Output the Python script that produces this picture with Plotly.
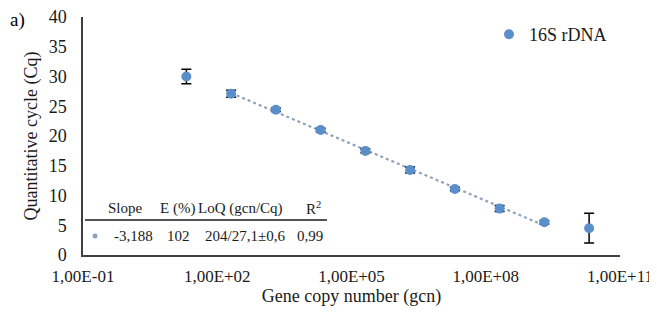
import numpy as np
import plotly.graph_objects as go

# ---- data ----
gcn = [2.04e1, 2.04e2, 2.04e3, 2.04e4, 2.04e5, 2.04e6, 2.04e7, 2.04e8, 2.04e9, 2.04e10]
cq = [30.0, 27.1, 24.4, 21.0, 17.5, 14.3, 11.1, 7.8, 5.5, 4.5]
cq_err = [1.2, 0.6, 0.3, 0.3, 0.3, 0.5, 0.3, 0.5, 0.3, 2.5]
fit_idx = [1, 2, 3, 4, 5, 6, 7, 8]          # points used for the standard curve
tick_vals = [1e-1, 1e2, 1e5, 1e8, 1e11]
tick_text = ["1,00E-01", "1,00E+02", "1,00E+05", "1,00E+08", "1,00E+11"]
y_ticks = [0, 5, 10, 15, 20, 25, 30, 35, 40]
table_header = ["Slope", "E (%)", "LoQ (gcn/Cq)", "R<sup>2</sup>"]
table_row = ["-3,188", "102", "204/27,1±0,6", "0,99"]
series_name = "16S rDNA"

# page body has an 8px margin; figure is sized so it fits the window
OFF = 8
W, H = 657 - OFF, 313 - OFF
L, T = 83 - OFF, 17 - OFF
PR, PB = 620 - OFF, 255 - OFF
R, B = W - PR, H - PB
PW, PH = W - L - R, H - T - B

def px(xr):   # reference window x -> paper
    return (xr - OFF - L) / PW

def py(yr):   # reference window y -> paper
    return (H - B - (yr - OFF)) / PH

FONT = "Liberation Serif"
BLUE = "#5b8fc9"
TXT = "#1a1a1a"

# trendline from a fit in log space
lx = np.log10([gcn[i] for i in fit_idx])
ly = np.array([cq[i] for i in fit_idx])
k, b0 = np.polyfit(lx, ly, 1)
tx = [gcn[fit_idx[0]], gcn[fit_idx[-1]]]
ty = [k * np.log10(v) + b0 for v in tx]

fig = go.Figure()
fig.add_trace(go.Scatter(
    x=tx, y=ty, mode="lines", showlegend=False, hoverinfo="skip",
    line=dict(color="#8ea3bb", width=2.2, dash="dot"),
))
fig.add_trace(go.Scatter(
    x=gcn, y=cq, mode="markers", name=series_name,
    marker=dict(color=BLUE, size=10, symbol="circle"),
    error_y=dict(type="data", array=cq_err, visible=True, color="black",
                 thickness=1.5, width=5),
))

anns = [dict(text="a)", x=px(17), y=py(20), xref="paper", yref="paper",
             showarrow=False, font=dict(family=FONT, size=19, color="black"),
             xanchor="center", yanchor="middle")]
hdr_x = [125, 177, 240, 313]
row_x = [133, 178, 245, 310]
for t, xp in zip(table_header, hdr_x):
    anns.append(dict(text=t, x=px(xp), y=py(208), xref="paper", yref="paper",
                     showarrow=False, xanchor="center", yanchor="middle",
                     font=dict(family=FONT, size=15, color=TXT)))
for t, xp in zip(table_row, row_x):
    anns.append(dict(text=t, x=px(xp), y=py(236), xref="paper", yref="paper",
                     showarrow=False, xanchor="center", yanchor="middle",
                     font=dict(family=FONT, size=15, color=TXT)))

shapes = [
    dict(type="line", xref="paper", yref="paper", x0=px(85), x1=px(327),
         y0=py(220), y1=py(220), line=dict(color=TXT, width=1.5)),
    dict(type="circle", xref="paper", yref="paper", x0=px(92.5), x1=px(97.5),
         y0=py(238.5), y1=py(233.5), fillcolor="#8ea3bb", line=dict(width=0)),
]

fig.update_layout(
    width=W, height=H,
    margin=dict(l=L, r=R, t=T, b=B, autoexpand=False),
    paper_bgcolor="white", plot_bgcolor="white",
    font=dict(family=FONT, size=18, color=TXT),
    showlegend=True,
    legend=dict(x=px(489), y=py(16), xanchor="left", yanchor="top",
                bgcolor="rgba(0,0,0,0)", font=dict(family=FONT, size=18, color=TXT),
                itemwidth=30, tracegroupgap=0),
    annotations=anns,
    shapes=shapes,
)
fig.update_xaxes(
    type="log", range=[-1, 11], tickvals=tick_vals, ticktext=tick_text,
    showgrid=False, zeroline=False, showline=True, linecolor="#404040",
    linewidth=1.5, ticks="", ticklabelstandoff=5, automargin=False,
    ticklabeloverflow="allow",
    tickfont=dict(family=FONT, size=17, color=TXT),
    title=dict(text="Gene copy number (gcn)", standoff=0,
               font=dict(family=FONT, size=18, color=TXT)),
)
fig.update_yaxes(
    range=[0, 40], tickvals=y_ticks, showgrid=False, zeroline=False,
    showline=True, linecolor="#404040", linewidth=1.5, ticks="",
    ticklabelstandoff=11, automargin=False, ticklabeloverflow="allow",
    tickfont=dict(family=FONT, size=18, color=TXT),
    title=dict(text="Quantitative cycle (Cq)", standoff=6,
               font=dict(family=FONT, size=18, color=TXT)),
)

fig.write_html("out.html")
